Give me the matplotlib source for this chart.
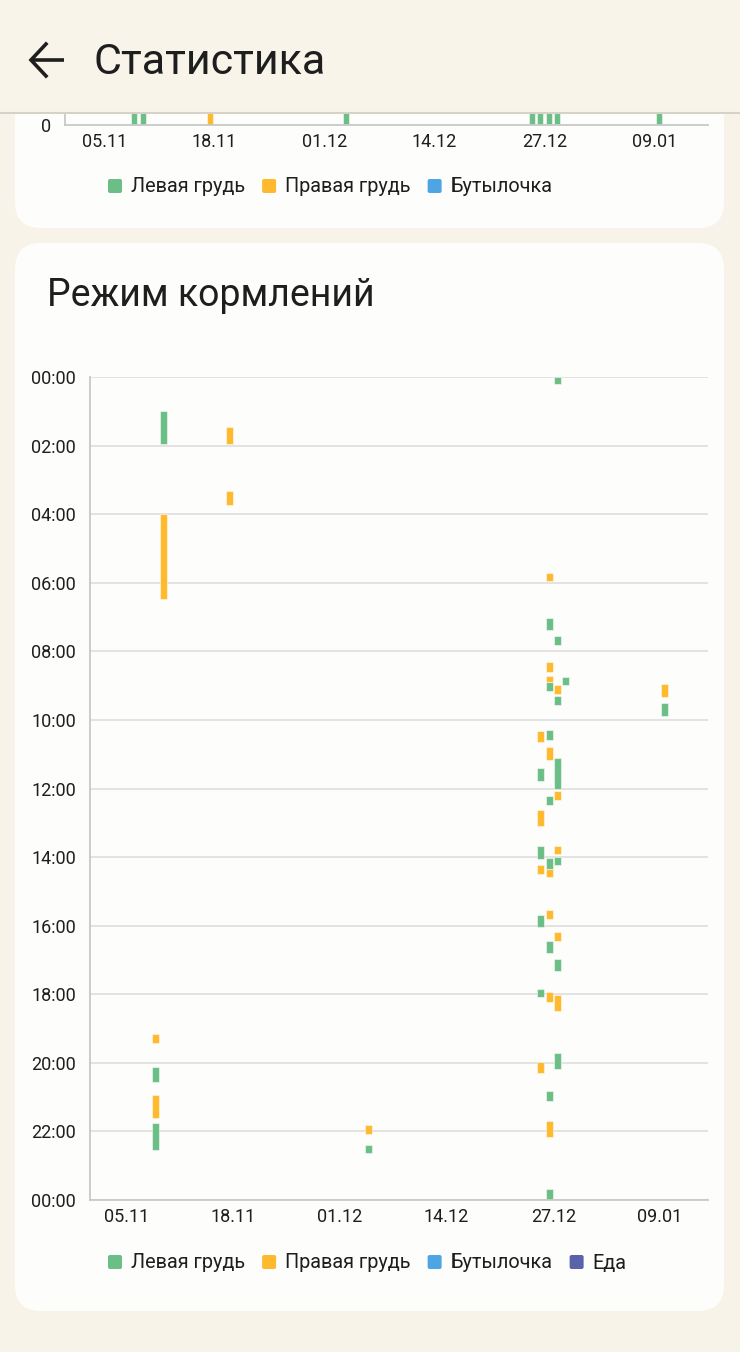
import matplotlib.pyplot as plt
from matplotlib.patches import FancyBboxPatch
from datetime import datetime

plt.rcParams['font.family'] = ['Roboto', 'DejaVu Sans']

# ---- data ----
# feedings, left breast: day, start, end
left_day = ['09.11', '08.11', '08.11', '04.12', '09.01',
            '27.12', '26.12', '27.12', '26.12', '28.12', '27.12', '26.12', '27.12',
            '25.12', '26.12', '25.12', '26.12', '27.12', '25.12', '26.12', '27.12',
            '25.12', '27.12', '26.12', '26.12']
left_start = ['01:00', '20:08', '21:45', '22:23', '09:30',
              '00:00', '07:02', '07:34', '08:53', '08:45', '09:18', '10:18', '11:06',
              '11:25', '12:13', '13:41', '14:02', '14:00', '15:41', '16:26', '16:58',
              '17:50', '19:43', '20:49', '23:41']
left_end = ['01:58', '20:33', '22:33', '22:38', '09:54',
            '00:13', '07:23', '07:49', '09:09', '08:59', '09:34', '10:35', '12:00',
            '11:47', '12:28', '14:04', '14:21', '14:14', '16:02', '16:47', '17:19',
            '18:05', '20:10', '21:06', '24:00']

# feedings, right breast
right_day = ['09.11', '08.11', '08.11', '17.11', '17.11', '04.12', '09.01',
             '26.12', '26.12', '26.12', '27.12', '25.12', '26.12', '27.12',
             '25.12', '27.12', '25.12', '26.12', '26.12', '27.12', '26.12',
             '27.12', '25.12', '26.12']
right_start = ['04:00', '19:10', '20:56', '01:28', '03:19', '21:49', '08:57',
               '05:43', '08:19', '08:43', '08:59', '10:19', '10:47', '12:04',
               '12:38', '13:40', '14:14', '14:21', '15:33', '16:11', '17:56',
               '18:02', '19:58', '21:41']
right_end = ['06:28', '19:26', '21:37', '01:58', '03:44', '22:04', '09:20',
             '05:57', '08:37', '08:53', '09:14', '10:38', '11:10', '12:20',
             '13:06', '13:55', '14:29', '14:35', '15:49', '16:26', '18:14',
             '18:29', '20:17', '22:10']

# daily counts for the upper chart (mostly scrolled away)
top_days = ['08.11', '09.11', '17.11', '03.12', '25.12', '26.12', '27.12', '28.12', '09.01']
top_left = [2, 1, 0, 1, 4, 7, 7, 1, 1]
top_right = [2, 1, 2, 1, 4, 8, 5, 0, 1]

date_ticks = ['05.11', '18.11', '01.12', '14.12', '27.12', '09.01']
hour_ticks = ['00:00', '02:00', '04:00', '06:00', '08:00', '10:00', '12:00',
              '14:00', '16:00', '18:00', '20:00', '22:00', '00:00']
legend_top = ['Левая грудь', 'Правая грудь', 'Бутылочка']
legend_main = ['Левая грудь', 'Правая грудь', 'Бутылочка', 'Еда']

GREEN, ORANGE, BLUE, PURPLE = '#6BBE86', '#FFB92E', '#4DA6E3', '#5A62AA'
colors = [GREEN, ORANGE, BLUE, PURPLE]
PAGE, CARD, TXT = '#F7F3E8', '#FDFDFB', '#1E1E1E'


def day_idx(s):
    d, m = s.split('.')
    year = 2020 if m == '01' else 2019
    return (datetime(year, int(m), int(d)) - datetime(2019, 11, 5)).days


def hrs(s):
    h, m = s.split(':')
    return int(h) + int(m) / 60


W, H = 740, 1352
fig = plt.figure(figsize=(W / 100, H / 100), dpi=100)
fig.patch.set_facecolor(PAGE)


def px_axes(x0, y0, x1, y1, **kw):
    # axes placed by pixel box (y measured from top)
    return fig.add_axes([x0 / W, 1 - y1 / H, (x1 - x0) / W, (y1 - y0) / H], **kw)


# background: page, cards, titles, legends
bg = px_axes(0, 0, W, H, zorder=0)
bg.set_xlim(0, W)
bg.set_ylim(H, 0)
bg.axis('off')
bg.add_patch(FancyBboxPatch((15, -80), 709, 308, boxstyle='round,pad=0,rounding_size=26',
                            fc=CARD, ec='none'))
bg.add_patch(FancyBboxPatch((15, 243), 709, 1068, boxstyle='round,pad=0,rounding_size=26',
                            fc=CARD, ec='none'))
bg.text(47, 296, 'Режим кормлений', fontsize=27, color=TXT, va='center', ha='left')


def draw_legend(labels, y):
    fig.canvas.draw()
    r = fig.canvas.get_renderer()
    x = 108
    for lab, c in zip(labels, colors):
        bg.add_patch(FancyBboxPatch((x, y - 7), 14, 14, boxstyle='round,pad=0,rounding_size=2',
                                    fc=c, ec='none'))
        t = bg.text(x + 23, y + 1, lab, fontsize=14.3, color=TXT, va='center', ha='left')
        bb = t.get_window_extent(renderer=r)
        x = x + 23 + bb.width + 17


draw_legend(legend_top, 186)
draw_legend(legend_main, 1262)

# upper chart (only its bottom edge is visible under the header)
ax_top = px_axes(65, -120, 708, 125, zorder=1)
ax_top.patch.set_alpha(0)
ut = [day_idx(d) + 0.5 for d in top_days]
ax_top.bar(ut, top_left, width=0.72, color=GREEN, edgecolor=(1, 1, 1, 0.5), lw=0.8)
ax_top.bar(ut, top_right, bottom=top_left, width=0.72, color=ORANGE,
           edgecolor=(1, 1, 1, 0.5), lw=0.8)
ax_top.set_xlim((65 - 104.5) / 8.46, (708 - 104.5) / 8.46)
ax_top.set_ylim(0, 12)
ax_top.set_xticks([day_idx(d) for d in date_ticks])
ax_top.set_xticklabels(date_ticks)
ax_top.set_yticks([0])
ax_top.tick_params(length=0, labelsize=13, colors=TXT)
ax_top.tick_params(axis='x', pad=6)
ax_top.tick_params(axis='y', pad=10)
for s in ['top', 'right']:
    ax_top.spines[s].set_visible(False)
for s in ['left', 'bottom']:
    ax_top.spines[s].set_color('#C8C8C8')
    ax_top.spines[s].set_linewidth(1.3)

# main chart: feeding schedule
ax = px_axes(90, 377, 708, 1200, zorder=1)
ax.patch.set_alpha(0)
for days, st, en, c in [(left_day, left_start, left_end, GREEN),
                        (right_day, right_start, right_end, ORANGE)]:
    x = [day_idx(d) + 0.5 for d in days]
    b = [hrs(s) for s in st]
    h = [hrs(e) - hrs(s) for s, e in zip(st, en)]
    ax.bar(x, h, bottom=b, width=0.85, color=c, edgecolor=(1, 1, 1, 0.5), lw=0.8)

ax.set_xlim((90 - 126.6) / 8.205, (708 - 126.6) / 8.205)
ax.set_ylim(24, 0)
ax.set_yticks(range(0, 25, 2))
ax.set_yticklabels(hour_ticks)
ax.set_xticks([day_idx(d) for d in date_ticks])
ax.set_xticklabels(date_ticks)
ax.tick_params(length=0, labelsize=13, colors=TXT)
ax.tick_params(axis='x', pad=6)
ax.tick_params(axis='y', pad=10)
ax.yaxis.grid(True, color='#E3E3E3', lw=1.4)
ax.set_axisbelow(True)
for s in ['top', 'right']:
    ax.spines[s].set_visible(False)
for s in ['left', 'bottom']:
    ax.spines[s].set_color('#C8C8C8')
    ax.spines[s].set_linewidth(1.3)

# header bar
hd = px_axes(0, 0, W, 114, zorder=5)
hd.set_xlim(0, W)
hd.set_ylim(114, 0)
hd.set_facecolor('#F8F4EA')
for s in hd.spines.values():
    s.set_visible(False)
hd.set_xticks([])
hd.set_yticks([])
hd.axhline(113, color='#D6D2C8', lw=1.5)
hd.plot([31, 64], [60, 60], color=TXT, lw=2.6, solid_capstyle='butt')
hd.plot([46, 31, 46], [44, 60, 76], color=TXT, lw=2.6, solid_joinstyle='miter')
hd.text(94, 63, 'Статистика', fontsize=31, color=TXT, va='center', ha='left')

fig.savefig('out.png', dpi=100, facecolor=PAGE)
